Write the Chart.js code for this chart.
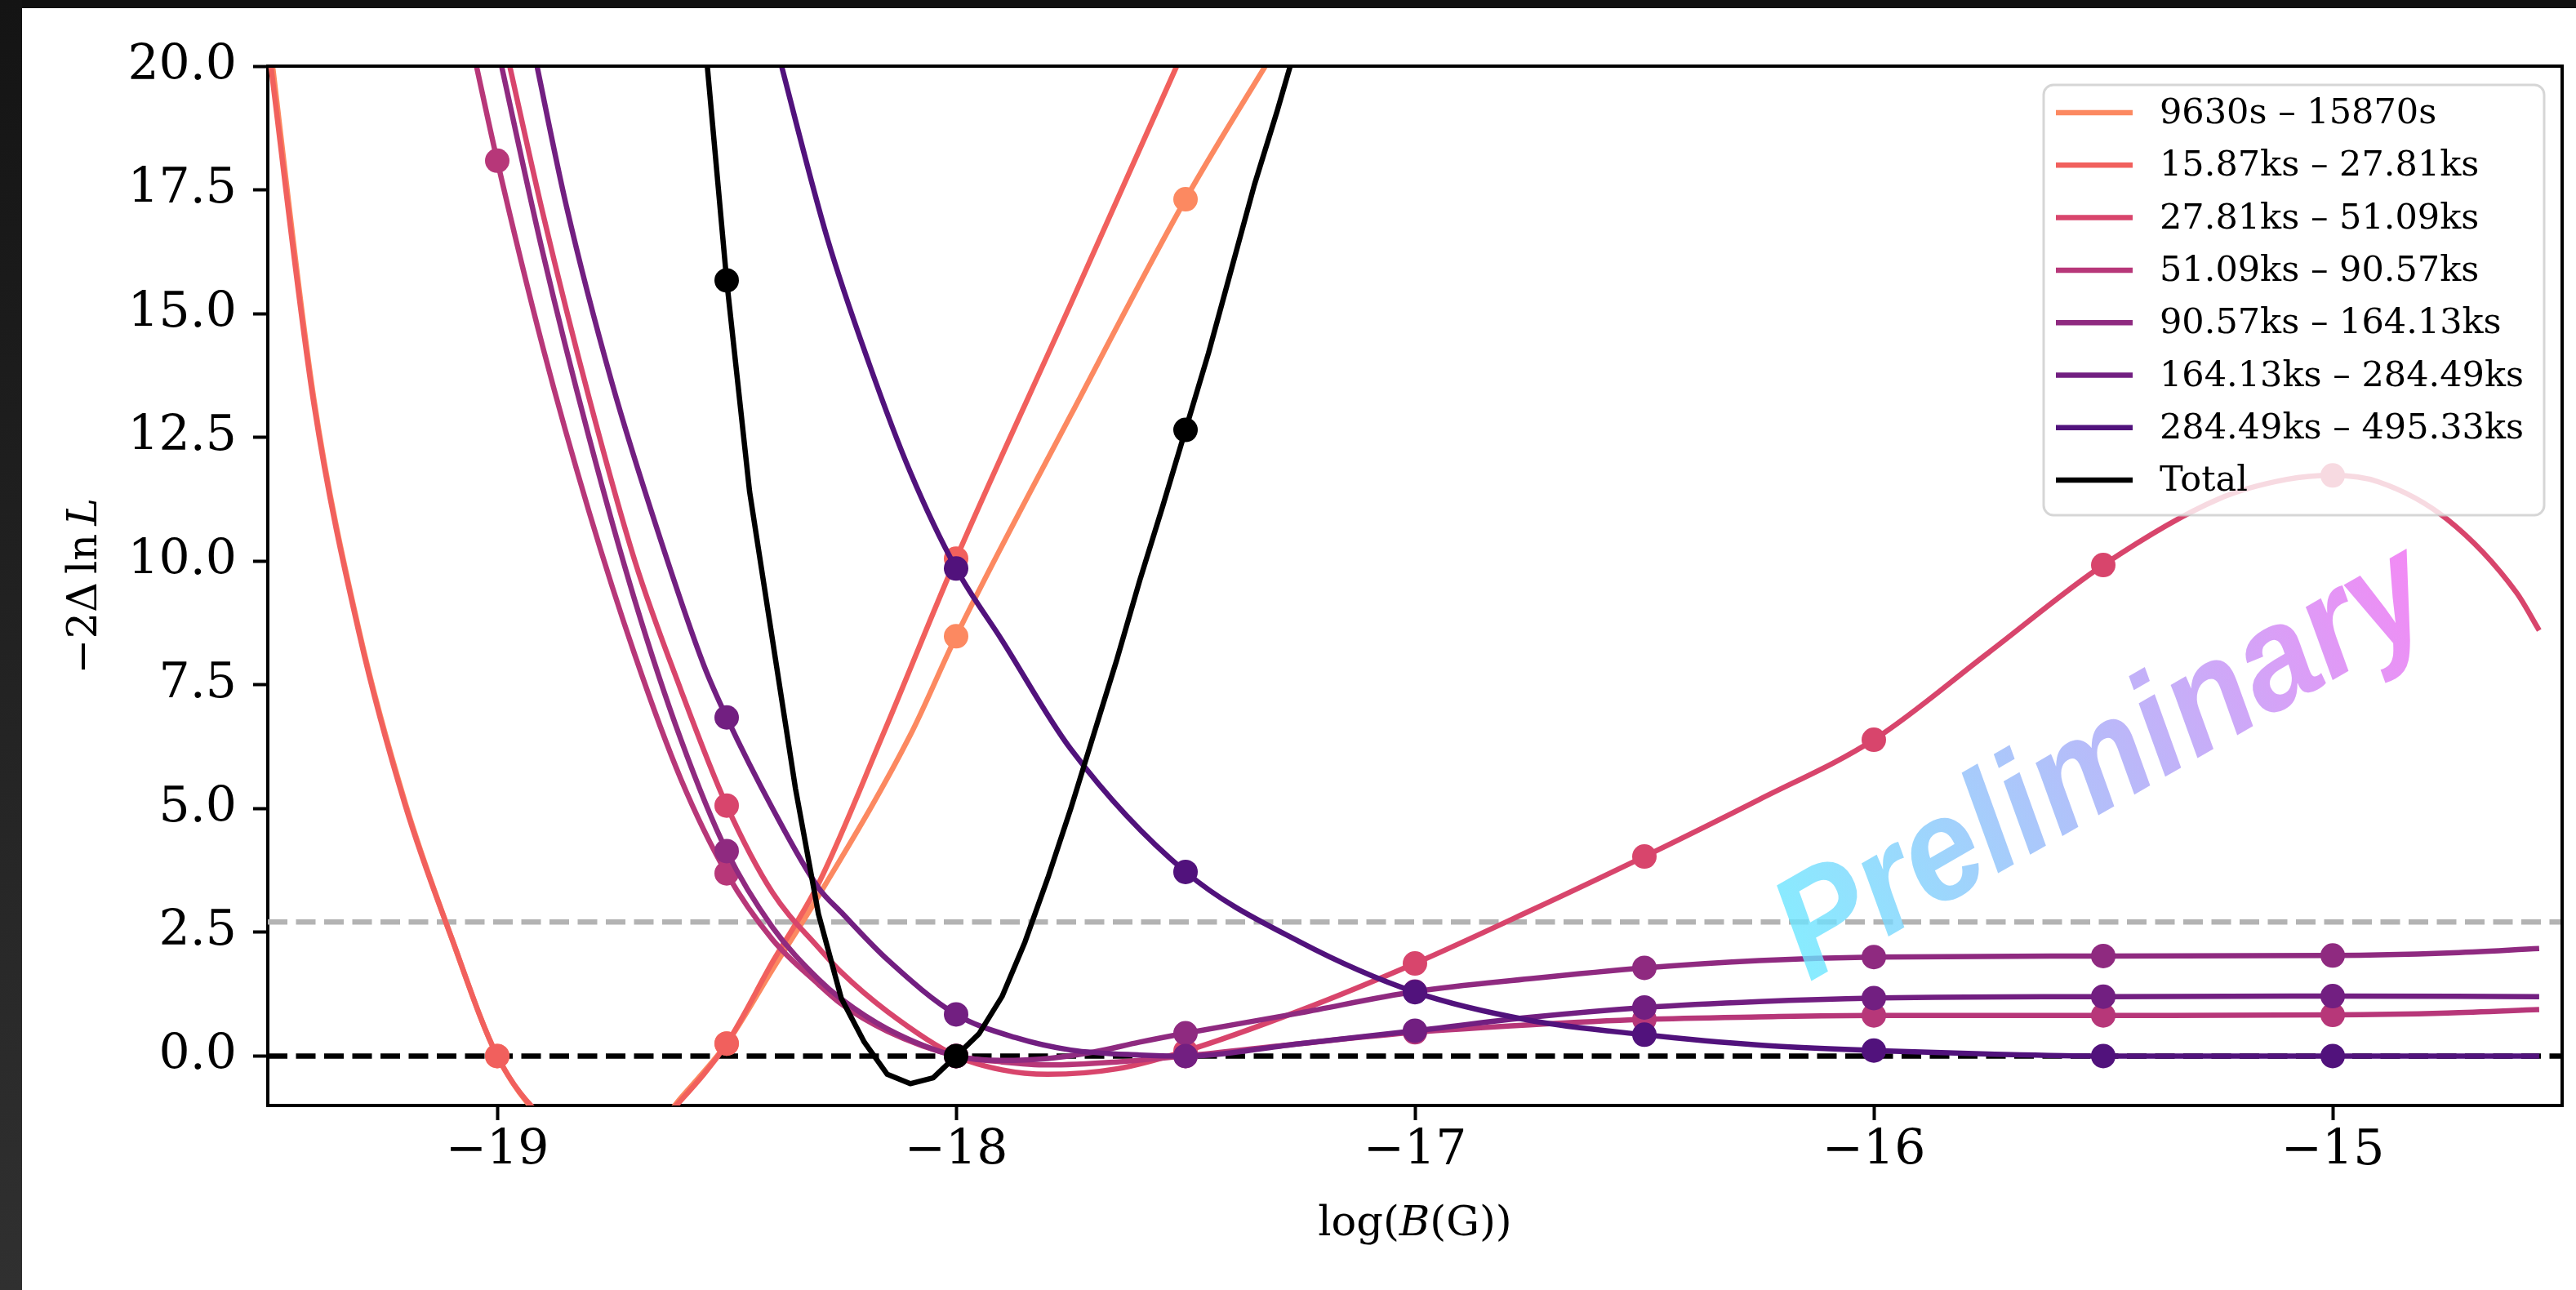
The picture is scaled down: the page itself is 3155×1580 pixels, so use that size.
<!DOCTYPE html>
<html>
<head>
<meta charset="utf-8">
<script src="https://cdn.jsdelivr.net/npm/chart.js@4.4.1/dist/chart.umd.min.js"></script>
<style>
html,body{margin:0;padding:0;background:#fff;overflow:hidden}
canvas{display:block}
</style>
</head>
<body>
<canvas id="c" width="3155" height="1580" style="width:3155px;height:1580px"></canvas>
<script>
// ---------- DATA ----------
const seriesLabels = ['9630s – 15870s','15.87ks – 27.81ks','27.81ks – 51.09ks','51.09ks – 90.57ks','90.57ks – 164.13ks','164.13ks – 284.49ks','284.49ks – 495.33ks','Total'];
const seriesColors = ['#fc8961','#f1605d','#d8456c','#b73779','#8f2a80','#721f81','#51127c','#000000'];

const xTicks = [-19, -18, -17, -16, -15];
const xTickLabels = ['\u221219','\u221218','\u221217','\u221216','\u221215'];
const yTicks = [0, 2.5, 5, 7.5, 10, 12.5, 15, 17.5, 20];
const yTickLabels = ['0.0','2.5','5.0','7.5','10.0','12.5','15.0','17.5','20.0'];
const refLevels = [0, 2.706];

// curves
const s1X = [-19.5,-19.4,-19.3,-19.2,-19.1,-19.0,-18.9,-18.77,-18.65,-18.6,-18.5,-18.4,-18.3,-18.1,-18.0,-17.75,-17.5,-17.3];
const s1Y = [20.8,13.3,8.55,5.1,2.4,0.0,-1.3,-2.0,-1.4,-0.85,0.25,1.75,3.23,6.48,8.48,12.95,17.31,20.4];
const s2X = [-19.5,-19.4,-19.3,-19.2,-19.1,-19.0,-18.9,-18.77,-18.65,-18.6,-18.5,-18.4,-18.3,-18.16,-18.0,-17.75,-17.5];
const s2Y = [20.5,13.2,8.5,5.05,2.4,0.0,-1.25,-1.9,-1.35,-0.9,0.25,1.9,3.48,6.48,10.05,15.2,20.4];
const s3X = [-18.98,-18.9,-18.8,-18.7,-18.6,-18.5,-18.4,-18.3,-18.25,-18.15,-18.0,-17.9,-17.8,-17.65,-17.5,-17.25,-17.0,-16.75,-16.5,-16.25,-16.0,-15.75,-15.5,-15.25,-15.1,-15.0,-14.9,-14.75,-14.6,-14.55];
const s3Y = [20.3,17.0,13.3,10.0,7.4,5.06,3.3,2.19,1.69,0.9,0.0,-0.28,-0.37,-0.26,0.1,0.92,1.87,2.93,4.03,5.18,6.39,8.15,9.92,11.25,11.65,11.73,11.6,10.84,9.37,8.6];
const s4X = [-19.05,-19.0,-18.9,-18.8,-18.7,-18.6,-18.5,-18.4,-18.3,-18.25,-18.15,-18.0,-17.9,-17.8,-17.65,-17.5,-17.25,-17.0,-16.75,-16.5,-16.25,-16.0,-15.5,-15.0,-14.75,-14.55];
const s4Y = [20.2,18.09,14.3,11.0,8.1,5.6,3.69,2.35,1.45,1.05,0.5,0.0,-0.12,-0.18,-0.12,0.0,0.25,0.48,0.63,0.74,0.79,0.82,0.82,0.83,0.87,0.94];
const s5X = [-19.0,-18.9,-18.8,-18.7,-18.6,-18.5,-18.4,-18.3,-18.25,-18.15,-18.0,-17.9,-17.8,-17.7,-17.6,-17.5,-17.25,-17.0,-16.75,-16.5,-16.25,-16.0,-15.5,-15.0,-14.75,-14.55];
const s5Y = [20.4,16.2,12.5,9.2,6.4,4.14,2.6,1.55,1.15,0.55,0.0,-0.09,-0.05,0.08,0.28,0.46,0.87,1.3,1.56,1.78,1.93,2.0,2.02,2.03,2.08,2.17];
const s6X = [-18.92,-18.85,-18.75,-18.65,-18.55,-18.5,-18.4,-18.3,-18.25,-18.15,-18.0,-17.87,-17.75,-17.6,-17.5,-17.25,-17.0,-16.75,-16.5,-16.25,-16.0,-15.5,-15.0,-14.55];
const s6Y = [20.3,17.2,13.6,10.6,7.9,6.84,5.0,3.4,2.9,1.95,0.84,0.37,0.12,0.02,0.0,0.25,0.51,0.78,0.98,1.1,1.17,1.2,1.21,1.2];
const s7X = [-18.4,-18.28,-18.19,-18.1,-18.0,-17.9,-17.75,-17.5,-17.25,-17.0,-16.75,-16.5,-16.25,-16.0,-15.75,-15.5,-15.0,-14.55];
const s7Y = [20.7,16.5,14.0,11.8,9.85,8.4,6.2,3.72,2.3,1.29,0.72,0.43,0.22,0.11,0.04,0.0,0.0,0.0];
const totX = [-18.55,-18.5,-18.45,-18.4,-18.35,-18.3,-18.25,-18.2,-18.15,-18.1,-18.05,-18.0,-17.95,-17.9,-17.85,-17.8,-17.75,-17.7,-17.65,-17.6,-17.55,-17.5,-17.45,-17.4,-17.35,-17.3,-17.25];
const totY = [20.8,15.67,11.4,8.4,5.4,2.87,1.16,0.28,-0.37,-0.56,-0.44,0.0,0.45,1.2,2.3,3.6,5.0,6.5,8.0,9.6,11.1,12.65,14.2,15.9,17.6,19.1,20.7];

// markers (grid points)
const markerX = [-19, -18.5, -18, -17.5, -17, -16.5, -16, -15.5, -15];
const s1M  = [0.0, 0.25, 8.48, 17.31, null, null, null, null, null];
const s2M  = [0.0, 0.25, 10.05, null, null, null, null, null, null];
const s3M  = [null, 5.06, 0.0, 0.1, 1.87, 4.03, 6.39, 9.92, 11.73];
const s4M  = [18.09, 3.69, 0.0, 0.0, 0.48, 0.74, 0.82, 0.82, 0.83];
const s5M  = [null, 4.14, 0.0, 0.46, 1.3, 1.78, 2.0, 2.02, 2.03];
const s6M  = [null, 6.84, 0.84, 0.0, 0.51, 0.98, 1.17, 1.2, 1.21];
const s7M  = [null, null, 9.85, 3.72, 1.29, 0.43, 0.11, 0.0, 0.0];
const totM = [null, 15.67, 0.0, 12.65, null, null, null, null, null];

const watermarkText = 'Preliminary';

// ---------- BUILD ----------
const curves = [[s1X,s1Y],[s2X,s2Y],[s3X,s3Y],[s4X,s4Y],[s5X,s5Y],[s6X,s6Y],[s7X,s7Y],[totX,totY]];
const markers = [s1M,s2M,s3M,s4M,s5M,s6M,s7M,totM];

const datasets = [];
let ord = 1000;
curves.forEach((c, k) => {
  const isTotal = k === curves.length - 1;
  datasets.push({
    type: 'line',
    label: seriesLabels[k],
    data: c[0].map((x, i) => ({x: x, y: c[1][i]})),
    borderColor: seriesColors[k],
    backgroundColor: seriesColors[k],
    borderWidth: 6.5,
    pointRadius: 0,
    pointHoverRadius: 0,
    fill: false,
    tension: isTotal ? 0 : 0.4,
    cubicInterpolationMode: isTotal ? 'default' : 'monotone',
    borderJoinStyle: 'round',
    order: ord--
  });
  datasets.push({
    type: 'line',
    label: '_m' + k,
    data: markerX.map((x, i) => ({x: x, y: markers[k][i]})).filter(p => p.y !== null),
    showLine: false,
    borderColor: seriesColors[k],
    backgroundColor: seriesColors[k],
    pointBackgroundColor: seriesColors[k],
    pointBorderWidth: 0,
    pointRadius: 15,
    pointHoverRadius: 15,
    order: ord--
  });
});

const FONT = "'DejaVu Serif', serif";

const bgPlugin = {
  id: 'bg',
  beforeDraw(chart) {
    const ctx = chart.ctx;
    ctx.save();
    ctx.fillStyle = '#ffffff';
    ctx.fillRect(0, 0, chart.width, chart.height);
    ctx.fillStyle = '#111111';
    ctx.fillRect(0, 0, chart.width, 10);
    const g = ctx.createLinearGradient(0, 0, 0, chart.height);
    g.addColorStop(0, '#141414');
    g.addColorStop(1, '#303030');
    ctx.fillStyle = g;
    ctx.fillRect(0, 0, 27, chart.height);
    ctx.restore();
  }
};

const refPlugin = {
  id: 'refs',
  beforeDatasetsDraw(chart) {
    const {ctx, chartArea: a, scales: {y}} = chart;
    ctx.save();
    ctx.beginPath();
    ctx.rect(a.left, a.top, a.right - a.left, a.bottom - a.top);
    ctx.clip();
    const cols = ['#000000', '#b3b3b3'];
    refLevels.forEach((lv, i) => {
      const py = y.getPixelForValue(lv);
      ctx.strokeStyle = cols[i];
      ctx.lineWidth = 6.5;
      ctx.setLineDash([24, 10.5]);
      ctx.beginPath();
      ctx.moveTo(a.left, py);
      ctx.lineTo(a.right, py);
      ctx.stroke();
    });
    ctx.restore();
  }
};

function roundRect(ctx, x, y, w, h, r) {
  ctx.beginPath();
  ctx.moveTo(x + r, y);
  ctx.lineTo(x + w - r, y);
  ctx.arcTo(x + w, y, x + w, y + r, r);
  ctx.lineTo(x + w, y + h - r);
  ctx.arcTo(x + w, y + h, x + w - r, y + h, r);
  ctx.lineTo(x + r, y + h);
  ctx.arcTo(x, y + h, x, y + h - r, r);
  ctx.lineTo(x, y + r);
  ctx.arcTo(x, y, x + r, y, r);
  ctx.closePath();
}

const overlayPlugin = {
  id: 'overlay',
  afterDraw(chart) {
    const {ctx, chartArea: a} = chart;
    ctx.save();
    // frame (top + right spines)
    ctx.strokeStyle = '#000';
    ctx.lineWidth = 4;
    ctx.setLineDash([]);
    ctx.beginPath();
    ctx.moveTo(a.left - 2, a.top);
    ctx.lineTo(a.right, a.top);
    ctx.lineTo(a.right, a.bottom + 2);
    ctx.stroke();

    // legend
    const lw = 613, lh = 527;
    const lx = a.right - 22 - lw, ly = a.top + 23;
    roundRect(ctx, lx, ly, lw, lh, 12);
    ctx.fillStyle = 'rgba(255,255,255,0.8)';
    ctx.fill();
    ctx.strokeStyle = 'rgba(204,204,204,0.8)';
    ctx.lineWidth = 3;
    ctx.stroke();
    ctx.font = '43px ' + FONT;
    ctx.textBaseline = 'middle';
    ctx.textAlign = 'left';
    seriesLabels.forEach((lab, i) => {
      const ry = ly + 34 + i * 64.3;
      ctx.strokeStyle = seriesColors[i];
      ctx.lineWidth = 6.5;
      ctx.beginPath();
      ctx.moveTo(lx + 15, ry);
      ctx.lineTo(lx + 109, ry);
      ctx.stroke();
      ctx.fillStyle = '#000';
      ctx.fillText(lab, lx + 142, ry + 2);
    });

    // x title: log(B(G))
    const xt = [['log(', false], ['B', true], ['(G))', false]];
    const fs = 51;
    let tot = 0;
    xt.forEach(p => { ctx.font = (p[1] ? 'italic ' : '') + fs + 'px ' + FONT; tot += ctx.measureText(p[0]).width; });
    let cx = (a.left + a.right) / 2 - tot / 2;
    ctx.fillStyle = '#000';
    ctx.textBaseline = 'alphabetic';
    xt.forEach(p => {
      ctx.font = (p[1] ? 'italic ' : '') + fs + 'px ' + FONT;
      ctx.fillText(p[0], cx, 1513);
      cx += ctx.measureText(p[0]).width;
    });

    // y title: −2Δ ln L
    const yt = [['\u22122\u0394\u2009ln\u2009', false], ['L', true]];
    ctx.save();
    ctx.translate(118, (a.top + a.bottom) / 2);
    ctx.rotate(-Math.PI / 2);
    tot = 0;
    yt.forEach(p => { ctx.font = (p[1] ? 'italic ' : '') + fs + 'px ' + FONT; tot += ctx.measureText(p[0]).width; });
    cx = -tot / 2;
    yt.forEach(p => {
      ctx.font = (p[1] ? 'italic ' : '') + fs + 'px ' + FONT;
      ctx.fillText(p[0], cx, 0);
      cx += ctx.measureText(p[0]).width;
    });
    ctx.restore();

    // watermark
    ctx.save();
    ctx.translate(2216, 1203);
    ctx.rotate(-Math.PI / 6);
    ctx.scale(0.92, 1);
    ctx.font = 'italic bold 178px "Liberation Sans", Arial, sans-serif';
    const ww = ctx.measureText(watermarkText).width;
    const g = ctx.createLinearGradient(0, 0, ww, 0);
    g.addColorStop(0, 'rgba(105,232,255,0.8)');
    g.addColorStop(0.5, 'rgba(165,170,248,0.8)');
    g.addColorStop(1, 'rgba(238,110,242,0.8)');
    ctx.fillStyle = g;
    ctx.textBaseline = 'alphabetic';
    ctx.textAlign = 'left';
    ctx.fillText(watermarkText, 0, 0);
    ctx.restore();

    ctx.restore();
  }
};

Chart.defaults.font.family = FONT;
Chart.defaults.color = '#000';

new Chart(document.getElementById('c'), {
  type: 'line',
  data: { datasets: datasets },
  options: {
    responsive: false,
    animation: false,
    devicePixelRatio: 1,
    events: [],
    layout: { padding: { left: 0, top: 81, right: 17, bottom: 0 } },
    plugins: { legend: { display: false }, tooltip: { enabled: false }, title: { display: false } },
    scales: {
      x: {
        type: 'linear',
        min: -19.5,
        max: -14.5,
        afterBuildTicks: s => { s.ticks = xTicks.map(v => ({ value: v })); },
        afterFit: s => { s.height = 226; },
        ticks: {
          autoSkip: false, maxRotation: 0, padding: 2,
          font: { family: FONT, size: 60 }, color: '#000',
          callback: v => { const i = xTicks.indexOf(v); return i >= 0 ? xTickLabels[i] : ''; }
        },
        grid: { drawOnChartArea: false, drawTicks: true, tickLength: 18, tickWidth: 4, color: '#000' },
        border: { display: true, color: '#000', width: 4 }
      },
      y: {
        type: 'linear',
        min: -1,
        max: 20,
        afterBuildTicks: s => { s.ticks = yTicks.map(v => ({ value: v })); },
        afterFit: s => { s.width = 328; },
        ticks: {
          autoSkip: false, padding: 20,
          font: { family: FONT, size: 60 }, color: '#000',
          callback: v => { const i = yTicks.indexOf(v); return i >= 0 ? yTickLabels[i] : ''; }
        },
        grid: { drawOnChartArea: false, drawTicks: true, tickLength: 18, tickWidth: 4, color: '#000' },
        border: { display: true, color: '#000', width: 4 }
      }
    }
  },
  plugins: [bgPlugin, refPlugin, overlayPlugin]
});
</script>
</body>
</html>
